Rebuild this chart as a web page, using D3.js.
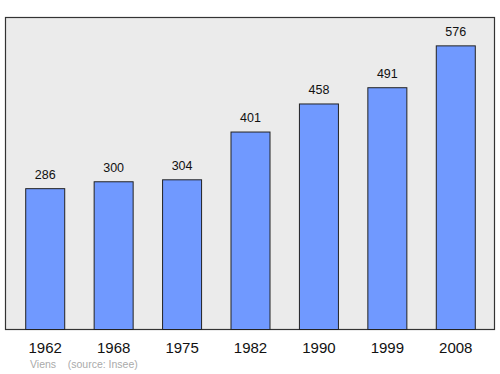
<!DOCTYPE html>
<html>
<head>
<meta charset="utf-8">
<script src="https://cdn.jsdelivr.net/npm/d3@7"></script>
<style>
  body { margin: 0; background: #fff; }
  text { font-family: "Liberation Sans", Arial, sans-serif; }
</style>
</head>
<body>
<div id="chart"></div>
<script>
var years = ["1962", "1968", "1975", "1982", "1990", "1999", "2008"];
var population = [286, 300, 304, 401, 458, 491, 576];
var caption = "Viens    (source: Insee)";

var width = 500, height = 374;
var box = { left: 5.5, top: 17.5, right: 494.5, bottom: 329.5 };

var svg = d3.select("#chart")
    .append("svg")
    .attr("width", width)
    .attr("height", height);

svg.append("rect")
    .attr("x", box.left)
    .attr("y", box.top)
    .attr("width", box.right - box.left)
    .attr("height", box.bottom - box.top)
    .style("fill", "#ebebeb")
    .style("stroke", "#333")
    .style("stroke-width", "1.2px");

var x = d3.scaleBand()
    .domain(years)
    .range([11, 490])
    .paddingInner(0.43)
    .paddingOuter(0.215);

var y = d3.scaleLinear()
    .domain([0, 633.6])
    .range([box.bottom, box.top]);

svg.selectAll("rect.bar")
    .data(population)
    .join("rect")
    .attr("class", "bar")
    .attr("x", (d, i) => x(years[i]))
    .attr("y", d => y(d))
    .attr("width", x.bandwidth())
    .attr("height", d => box.bottom - y(d))
    .style("fill", "#7099ff")
    .style("stroke", "#222")
    .style("stroke-width", "1px");

// value labels
svg.selectAll("text.value")
    .data(population)
    .join("text")
    .attr("class", "value")
    .attr("x", (d, i) => x(years[i]) + x.bandwidth() / 2)
    .attr("y", d => y(d) - 10)
    .attr("text-anchor", "middle")
    .style("font-size", "12.5px")
    .style("fill", "#111")
    .text(d => d);

// year labels
svg.selectAll("text.year")
    .data(years)
    .join("text")
    .attr("class", "year")
    .attr("x", d => x(d) + x.bandwidth() / 2)
    .attr("y", 353)
    .attr("text-anchor", "middle")
    .style("font-size", "15px")
    .style("fill", "#111")
    .text(d => d);

svg.append("text")
    .attr("x", 30)
    .attr("y", 368)
    .style("font-size", "10.5px")
    .style("fill", "#aaa")
    .style("white-space", "pre")
    .attr("xml:space", "preserve")
    .text(caption);
</script>
</body>
</html>
